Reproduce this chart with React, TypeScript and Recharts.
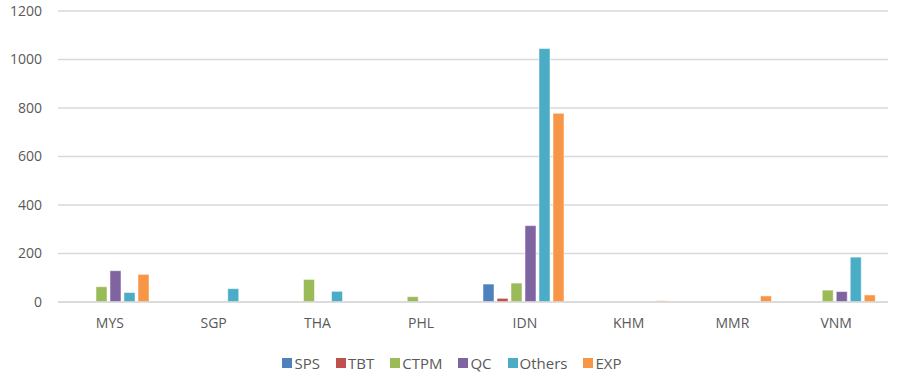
import React from "react";
import { BarChart, Bar, XAxis, YAxis, CartesianGrid, Legend } from "recharts";

const countries = ["MYS", "SGP", "THA", "PHL", "IDN", "KHM", "MMR", "VNM"];
const sps = [0, 0, 0, 0, 74, 0, 0, 0];
const tbt = [0, 0, 0, 0, 15, 0, 0, 0];
const ctpm = [63, 0, 93, 22, 78, 0, 0, 49];
const qc = [129, 0, 0, 0, 315, 0, 0, 43];
const others = [39, 55, 44, 0, 1045, 0, 0, 185];
const exp = [114, 0, 0, 0, 778, 5, 25, 29];
const yTicks = [0, 200, 400, 600, 800, 1000, 1200];

const data = countries.map((c, i) => ({
  name: c,
  SPS: sps[i],
  TBT: tbt[i],
  CTPM: ctpm[i],
  QC: qc[i],
  Others: others[i],
  EXP: exp[i],
}));

const series = [
  { key: "SPS", color: "#4F81BD" },
  { key: "TBT", color: "#C0504D" },
  { key: "CTPM", color: "#9BBB59" },
  { key: "QC", color: "#8064A2" },
  { key: "Others", color: "#4BACC6" },
  { key: "EXP", color: "#F79646" },
];

const font = "'Open Sans', 'Liberation Sans', sans-serif";

const LegendContent = () => (
  <div
    style={{
      height: 40,
      paddingTop: 22,
      paddingLeft: 16,
      boxSizing: "border-box",
      display: "flex",
      justifyContent: "center",
      alignItems: "center",
      fontFamily: font,
      fontSize: 15,
      color: "#595959",
    }}
  >
    {series.map((s) => (
      <div key={s.key} style={{ display: "flex", alignItems: "center", margin: "0 8px" }}>
        <span style={{ width: 10, height: 10, background: s.color, display: "inline-block", marginRight: 2 }} />
        <span style={{ lineHeight: "20px" }}>{s.key}</span>
      </div>
    ))}
  </div>
);

export default function App() {
  return (
    <div style={{ position: "absolute", left: 0, top: 0, width: 902, height: 386, background: "#fff" }}>
      <BarChart
        width={902}
        height={386}
        data={data}
        margin={{ top: 11, right: 14, left: 0, bottom: 14 }}
        barCategoryGap={10}
        barGap={3}
      >
        <CartesianGrid vertical={false} stroke="#D9D9D9" strokeWidth={1.3} />
        <XAxis
          dataKey="name"
          axisLine={{ stroke: "#D9D9D9", strokeWidth: 1.3 }}
          tickLine={false}
          tickMargin={10}
          tick={{ fill: "#595959", fontSize: 14, fontFamily: font }}
          height={30}
        />
        <YAxis
          width={58}
          domain={[0, 1200]}
          ticks={yTicks}
          axisLine={false}
          tickLine={false}
          tickMargin={10}
          tick={{ fill: "#595959", fontSize: 14, fontFamily: font }}
        />
        <Legend verticalAlign="bottom" height={40} content={LegendContent} />
        {series.map((s) => (
          <Bar
            key={s.key}
            dataKey={s.key}
            fill={s.color}
            stroke="#fff"
            strokeWidth={0.5}
            isAnimationActive={false}
          />
        ))}
      </BarChart>
    </div>
  );
}
